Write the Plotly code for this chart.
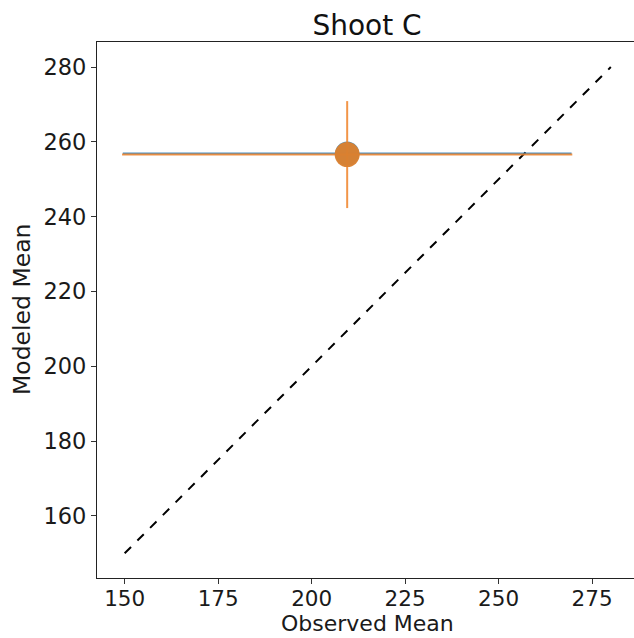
import plotly.graph_objects as go

# Data
obs_blue = [209.5]
mod_blue = [256.9]
xerr_blue = [60.0]
yerr_blue = [0.0]

obs_orange = [209.5]
mod_orange = [256.6]
xerr_orange = [60.2]
yerr_orange = [14.3]

diag = [150, 280]

title = "Shoot C"
xlabel = "Observed Mean"
ylabel = "Modeled Mean"
xticks = [150, 175, 200, 225, 250, 275]
yticks = [160, 180, 200, 220, 240, 260, 280]

fig = go.Figure()

fig.add_trace(go.Scatter(
    x=diag, y=diag, mode="lines",
    line=dict(color="black", width=2, dash="dash"), showlegend=False))

fig.add_trace(go.Scatter(
    x=obs_blue, y=mod_blue, mode="markers",
    marker=dict(color="rgba(31,119,180,0.8)", size=24, line=dict(width=0)),
    error_x=dict(type="data", array=xerr_blue, color="rgba(31,119,180,0.8)", thickness=2, width=0),
    error_y=dict(type="data", array=yerr_blue, color="rgba(31,119,180,0.8)", thickness=2, width=0),
    showlegend=False))

fig.add_trace(go.Scatter(
    x=obs_orange, y=mod_orange, mode="markers",
    marker=dict(color="rgba(218,128,48,0.97)", size=25, line=dict(width=0)),
    error_x=dict(type="data", array=xerr_orange, color="rgba(240,130,40,0.85)", thickness=2, width=0),
    error_y=dict(type="data", array=yerr_orange, color="rgba(240,130,40,0.85)", thickness=2, width=0),
    showlegend=False))

font_family = "DejaVu Sans"
L, T, B = 97, 42, 60
W, H = 634, 638
pw, ph = W - L, H - T - B

fig.update_layout(
    width=W, height=H,
    margin=dict(l=L, r=0, t=T, b=B),
    paper_bgcolor="white", plot_bgcolor="white",
    font=dict(family=font_family, color="#1a1a1a", size=22),
    title=dict(text=title, x=367 / W, xanchor="center",
               y=1 - 25 / H, yanchor="middle",
               font=dict(size=28, color="#111", family=font_family)),
    xaxis=dict(
        range=[142.6, 286.2], tickvals=xticks, ticks="outside", ticklen=5,
        tickcolor="#333", showgrid=False, zeroline=False,
        showline=True, linecolor="#222", linewidth=1.2, mirror=True,
        tickfont=dict(size=21.5), ticklabelstandoff=-4),
    yaxis=dict(
        range=[143.4, 286.7], tickvals=yticks, ticks="outside", ticklen=5,
        tickcolor="#333", showgrid=False, zeroline=False,
        showline=True, linecolor="#222", linewidth=1.2, mirror=False,
        tickfont=dict(size=22.5)),
    annotations=[
        dict(text=xlabel, xref="paper", yref="paper",
             x=(367 - L) / pw, y=(H - B - 638) / ph,
             xanchor="center", yanchor="bottom", showarrow=False,
             font=dict(size=22, color="#1a1a1a")),
        dict(text=ylabel, xref="paper", yref="paper",
             x=(22 - L) / pw, y=(H - B - 310) / ph, textangle=-90,
             xanchor="center", yanchor="middle", showarrow=False,
             font=dict(size=23.5, color="#1a1a1a")),
    ],
)

fig.write_html("out.html")
